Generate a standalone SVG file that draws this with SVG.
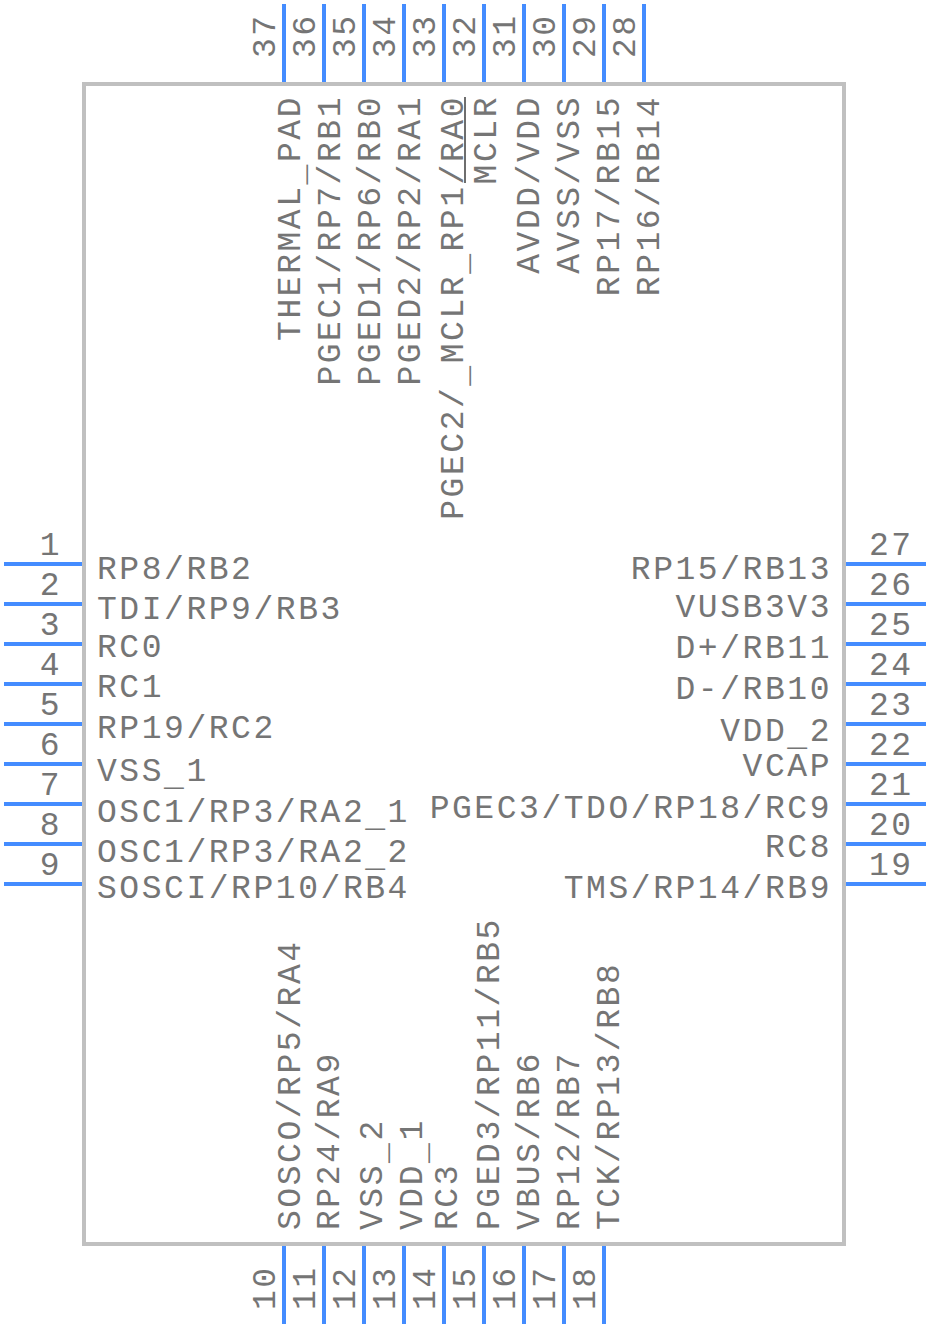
<svg xmlns="http://www.w3.org/2000/svg" width="928" height="1328" viewBox="0 0 928 1328">
<style>
text{font-family:"Liberation Mono","Courier New",monospace;font-size:33px;letter-spacing:2.55px;fill:#757575}
.e{text-anchor:end}
.body{fill:#fff;stroke:#c0c0c0;stroke-width:4}
.pin{stroke:#448cff;stroke-width:4;fill:none}
.bar{stroke:#6e6e6e;stroke-width:2;fill:none}
</style>
<rect width="928" height="1328" fill="#fff"/>
<g id="body"><rect class="body" x="84" y="84" width="760" height="1160"/></g>
<g id="connectors">
<path class="pin" d="M4 564H82M4 604H82M4 644H82M4 684H82M4 724H82M4 764H82M4 804H82M4 844H82M4 884H82"/>
<path class="pin" d="M846 564H926M846 604H926M846 644H926M846 684H926M846 724H926M846 764H926M846 804H926M846 844H926M846 884H926"/>
<path class="pin" d="M284 1246V1324M324 1246V1324M364 1246V1324M404 1246V1324M444 1246V1324M484 1246V1324M524 1246V1324M564 1246V1324M604 1246V1324"/>
<path class="pin" d="M284 4V82M324 4V82M364 4V82M404 4V82M444 4V82M484 4V82M524 4V82M564 4V82M604 4V82M644 4V82"/>
</g>
<g id="pin1"><text class="e" x="62" y="555">1</text><text x="97" y="579">RP8/RB2</text></g>
<g id="pin2"><text class="e" x="62" y="595">2</text><text x="97" y="619">TDI/RP9/RB3</text></g>
<g id="pin3"><text class="e" x="62" y="635">3</text><text x="97" y="657">RC0</text></g>
<g id="pin4"><text class="e" x="62" y="675">4</text><text x="97" y="697">RC1</text></g>
<g id="pin5"><text class="e" x="62" y="715">5</text><text x="97" y="738">RP19/RC2</text></g>
<g id="pin6"><text class="e" x="62" y="755">6</text><text x="97" y="781">VSS<tspan dy="4">_</tspan><tspan dy="-4">1</tspan></text></g>
<g id="pin7"><text class="e" x="62" y="795">7</text><text x="97" y="822">OSC1/RP3/RA2<tspan dy="4">_</tspan><tspan dy="-4">1</tspan></text></g>
<g id="pin8"><text class="e" x="62" y="835">8</text><text x="97" y="862">OSC1/RP3/RA2<tspan dy="4">_</tspan><tspan dy="-4">2</tspan></text></g>
<g id="pin9"><text class="e" x="62" y="875">9</text><text x="97" y="898">SOSCI/RP10/RB4</text></g>
<g id="pin27"><text x="869" y="555">27</text><text class="e" x="832" y="579">RP15/RB13</text></g>
<g id="pin26"><text x="869" y="595">26</text><text class="e" x="832" y="617">VUSB3V3</text></g>
<g id="pin25"><text x="869" y="635">25</text><text class="e" x="832" y="658">D+/RB11</text></g>
<g id="pin24"><text x="869" y="675">24</text><text class="e" x="832" y="699">D-/RB10</text></g>
<g id="pin23"><text x="869" y="715">23</text><text class="e" x="832" y="741">VDD<tspan dy="4">_</tspan><tspan dy="-4">2</tspan></text></g>
<g id="pin22"><text x="869" y="755">22</text><text class="e" x="832" y="776">VCAP</text></g>
<g id="pin21"><text x="869" y="795">21</text><text class="e" x="832" y="818">PGEC3/TDO/RP18/RC9</text></g>
<g id="pin20"><text x="869" y="835">20</text><text class="e" x="832" y="857">RC8</text></g>
<g id="pin19"><text x="869" y="875">19</text><text class="e" x="832" y="898">TMS/RP14/RB9</text></g>
<g id="pin10"><text transform="translate(275 1310) rotate(-90)">10</text><text transform="translate(300 1230) rotate(-90)">SOSCO/RP5/RA4</text></g>
<g id="pin11"><text transform="translate(315 1310) rotate(-90)">11</text><text transform="translate(339 1230) rotate(-90)">RP24/RA9</text></g>
<g id="pin12"><text transform="translate(355 1310) rotate(-90)">12</text><text transform="translate(382 1230) rotate(-90)">VSS<tspan dy="4">_</tspan><tspan dy="-4">2</tspan></text></g>
<g id="pin13"><text transform="translate(395 1310) rotate(-90)">13</text><text transform="translate(422 1230) rotate(-90)">VDD<tspan dy="4">_</tspan><tspan dy="-4">1</tspan></text></g>
<g id="pin14"><text transform="translate(435 1310) rotate(-90)">14</text><text transform="translate(457 1230) rotate(-90)">RC3</text></g>
<g id="pin15"><text transform="translate(475 1310) rotate(-90)">15</text><text transform="translate(499 1230) rotate(-90)">PGED3/RP11/RB5</text></g>
<g id="pin16"><text transform="translate(515 1310) rotate(-90)">16</text><text transform="translate(539 1230) rotate(-90)">VBUS/RB6</text></g>
<g id="pin17"><text transform="translate(555 1310) rotate(-90)">17</text><text transform="translate(579 1230) rotate(-90)">RP12/RB7</text></g>
<g id="pin18"><text transform="translate(595 1310) rotate(-90)">18</text><text transform="translate(619 1230) rotate(-90)">TCK/RP13/RB8</text></g>
<g id="pin37"><text transform="translate(275 58) rotate(-90)">37</text><text class="e" transform="translate(300 95) rotate(-90)">THERMAL<tspan dy="4">_</tspan><tspan dy="-4">PAD</tspan></text></g>
<g id="pin36"><text transform="translate(315 58) rotate(-90)">36</text><text class="e" transform="translate(340 95) rotate(-90)">PGEC1/RP7/RB1</text></g>
<g id="pin35"><text transform="translate(355 58) rotate(-90)">35</text><text class="e" transform="translate(380 95) rotate(-90)">PGED1/RP6/RB0</text></g>
<g id="pin34"><text transform="translate(395 58) rotate(-90)">34</text><text class="e" transform="translate(420 95) rotate(-90)">PGED2/RP2/RA1</text></g>
<g id="pin33"><text transform="translate(435 58) rotate(-90)">33</text><text class="e" transform="translate(463 95) rotate(-90)">PGEC2/<tspan dy="4">_</tspan><tspan dy="-4">MCLR</tspan><tspan dy="4">_</tspan><tspan dy="-4">RP1/RA0</tspan></text></g>
<g id="pin32"><text transform="translate(475 58) rotate(-90)">32</text><text class="e" transform="translate(496 95) rotate(-90)">MCLR</text><path class="bar" d="M465 97V183"/></g>
<g id="pin31"><text transform="translate(515 58) rotate(-90)">31</text><text class="e" transform="translate(539 95) rotate(-90)">AVDD/VDD</text></g>
<g id="pin30"><text transform="translate(555 58) rotate(-90)">30</text><text class="e" transform="translate(579 95) rotate(-90)">AVSS/VSS</text></g>
<g id="pin29"><text transform="translate(595 58) rotate(-90)">29</text><text class="e" transform="translate(619 95) rotate(-90)">RP17/RB15</text></g>
<g id="pin28"><text transform="translate(635 58) rotate(-90)">28</text><text class="e" transform="translate(659 95) rotate(-90)">RP16/RB14</text></g>
</svg>
